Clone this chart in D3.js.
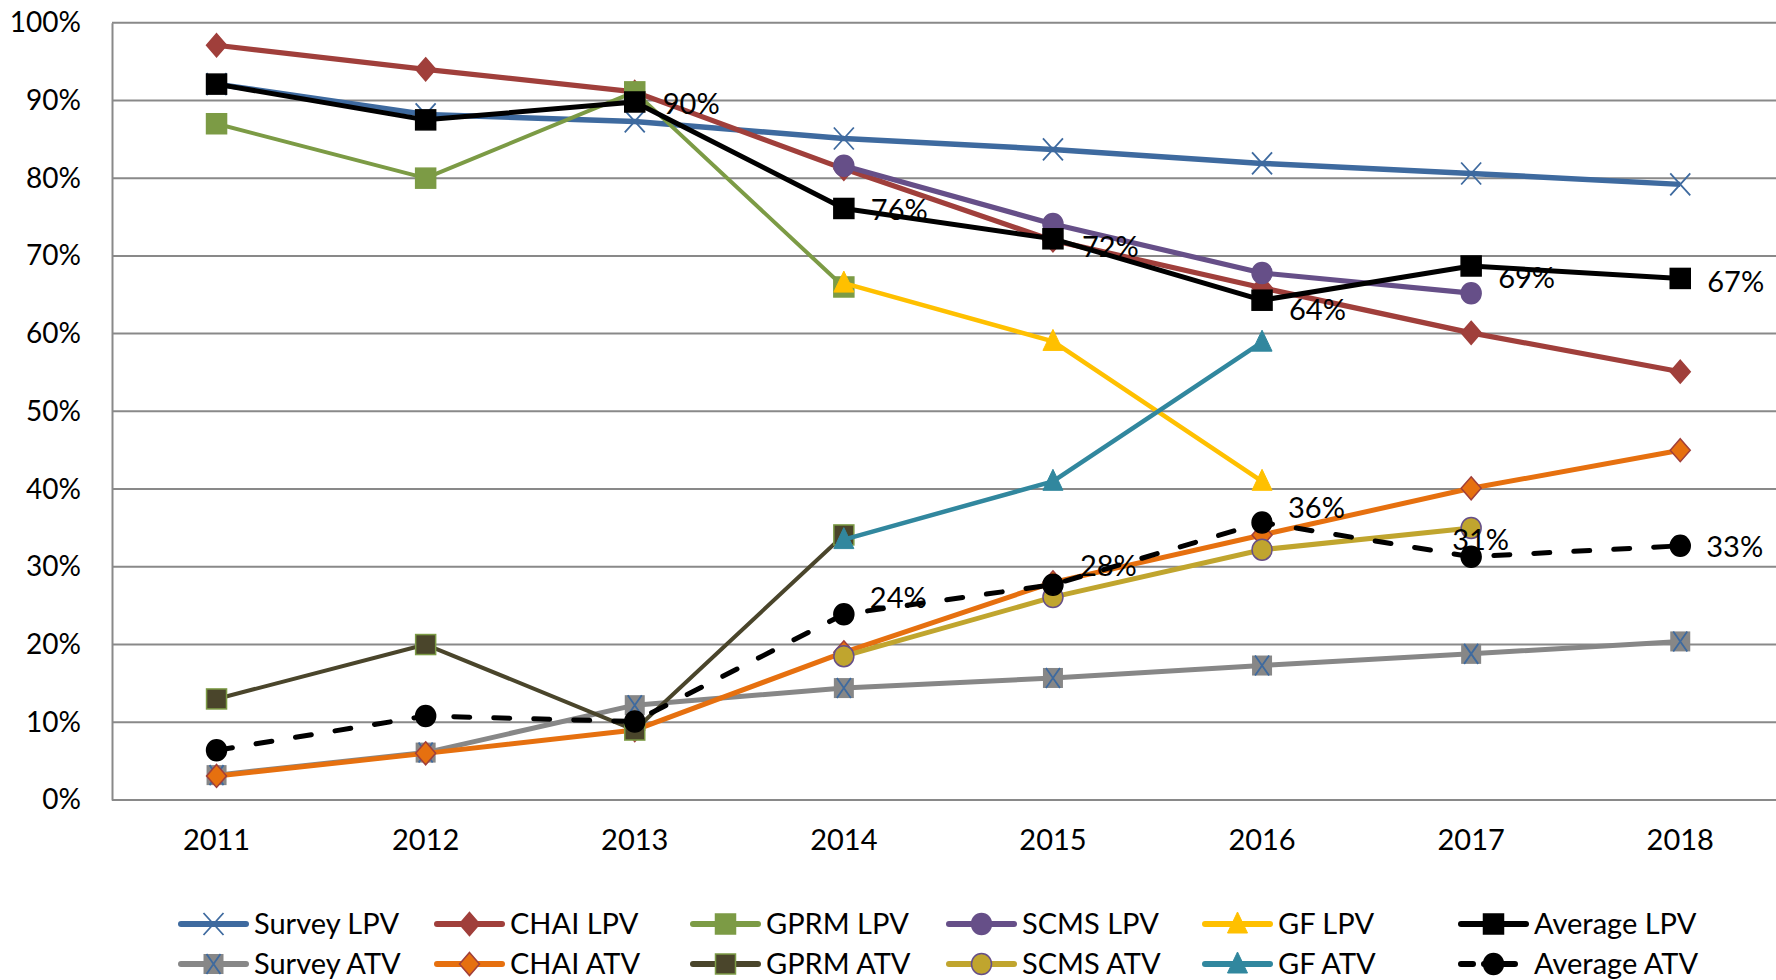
<!DOCTYPE html>
<html>
<head>
<meta charset="utf-8">
<script src="https://cdn.jsdelivr.net/npm/d3@7"></script>
<style>
  body { margin: 0; background: #fff; }
  svg text { font-family: Lato, "Liberation Sans", sans-serif; fill: #000; }
</style>
</head>
<body>
<svg id="chart" width="1776" height="980"></svg>
<script>
var years = ['2011', '2012', '2013', '2014', '2015', '2016', '2017', '2018'];
var yTicks = [0, 0.1, 0.2, 0.3, 0.4, 0.5, 0.6, 0.7, 0.8, 0.9, 1.0];

// null = no value that year
var surveyLpv = [0.921, 0.882, 0.873, 0.851, 0.837, 0.819, 0.806, 0.792];
var chaiLpv   = [0.971, 0.940, 0.911, 0.812, 0.720, 0.659, 0.601, 0.551];
var gprmLpv   = [0.870, 0.800, 0.911, 0.660, null, null, null, null];
var scmsLpv   = [null, null, null, 0.816, 0.741, 0.678, 0.652, null];
var gfLpv     = [null, null, null, 0.665, 0.590, 0.410, null, null];
var avgLpv    = [0.921, 0.875, 0.898, 0.761, 0.722, 0.643, 0.687, 0.671];

var surveyAtv = [0.032, 0.061, 0.122, 0.144, 0.157, 0.173, 0.188, 0.204];
var chaiAtv   = [0.031, 0.060, 0.090, 0.190, 0.280, 0.341, 0.401, 0.450];
var gprmAtv   = [0.130, 0.200, 0.090, 0.341, null, null, null, null];
var scmsAtv   = [null, null, null, 0.185, 0.261, 0.322, 0.350, null];
var gfAtv     = [null, null, null, 0.335, 0.410, 0.589, null, null];
var avgAtv    = [0.064, 0.108, 0.101, 0.239, 0.277, 0.357, 0.313, 0.327];

// which points of the average lines carry a data label
var avgLpvLabelled = [false, false, true, true, true, true, true, true];
var avgAtvLabelled = [false, false, false, true, true, true, true, true];
// label nudges (dx, dy) away from the point
var avgLpvNudge = [[0, 0], [0, 0], [28, 2], [27, 1], [29, 8], [27, 10], [27, 12], [27, 3]];
var avgAtvNudge = [[0, 0], [0, 0], [0, 0], [26, -16], [27, -19], [26, -15], [-19, -17], [26, 1]];

var series = [
    { name: 'Survey LPV', values: surveyLpv, color: '#3e6a9f', width: 5.5, marker: 'x', fill: 'none', edge: '#3e6a9f' },
    { name: 'CHAI LPV', values: chaiLpv, color: '#a03f3b', width: 5.2, marker: 'diamond', fill: '#a03f3b', edge: '#a03f3b' },
    { name: 'GPRM LPV', values: gprmLpv, color: '#7c9b45', width: 4, marker: 'square', fill: '#7c9b45', edge: '#7c9b45' },
    { name: 'SCMS LPV', values: scmsLpv, color: '#664f88', width: 5.2, marker: 'circle', fill: '#664f88', edge: '#664f88' },
    { name: 'GF LPV', values: gfLpv, color: '#ffc000', width: 4.5, marker: 'triangle', fill: '#ffc000', edge: '#ffc000' },
    { name: 'Average LPV', values: avgLpv, color: '#000000', width: 5, marker: 'square', fill: '#000', edge: '#000',
      labelled: avgLpvLabelled, nudge: avgLpvNudge },
    { name: 'Survey ATV', values: surveyAtv, color: '#878787', width: 5, marker: 'xsquare', fill: '#878787', edge: '#3e6a9f' },
    { name: 'CHAI ATV', values: chaiAtv, color: '#e6700f', width: 5, marker: 'diamond', fill: '#e6700f', edge: '#a03f3b' },
    { name: 'GPRM ATV', values: gprmAtv, color: '#4a452b', width: 4, marker: 'square', fill: '#4a452b', edge: '#7c9b45' },
    { name: 'SCMS ATV', values: scmsAtv, color: '#c0a52e', width: 5, marker: 'circle', fill: '#c0a52e', edge: '#664f88' },
    { name: 'GF ATV', values: gfAtv, color: '#31879e', width: 4.5, marker: 'triangle', fill: '#31879e', edge: '#31879e' },
    { name: 'Average ATV', values: avgAtv, color: '#000000', width: 5, marker: 'circle', fill: '#000', edge: '#000',
      dash: '16,24', labelled: avgAtvLabelled, nudge: avgAtvNudge }
];

var svg = d3.select('#chart');
var plotLeft = 112, plotTop = 22.7, plotBottom = 800, bandW = 209.1;

var x = d3.scaleBand()
    .domain(years)
    .range([plotLeft, plotLeft + bandW * years.length]);
var y = d3.scaleLinear().domain([0, 1]).range([plotBottom, plotTop]);
var pct = d3.format('.0%');

// gridlines
svg.append('g').selectAll('line')
    .data(yTicks)
    .enter().append('line')
    .attr('x1', plotLeft).attr('x2', 1776)
    .attr('y1', function (d) { return y(d); })
    .attr('y2', function (d) { return y(d); })
    .attr('stroke', '#898989')
    .attr('stroke-width', 2);

// y axis
var yAxis = svg.append('g')
    .attr('transform', 'translate(' + plotLeft + ',0)')
    .call(d3.axisLeft(y).tickValues(yTicks).tickFormat(pct).tickSize(0).tickPadding(31));
yAxis.select('.domain').attr('stroke', '#898989').attr('stroke-width', 2);
yAxis.selectAll('text').style('font-size', '28px');

// x axis
var xAxis = svg.append('g')
    .attr('transform', 'translate(0,' + plotBottom + ')')
    .call(d3.axisBottom(x).tickSize(0).tickPadding(29));
xAxis.select('.domain').remove();
xAxis.selectAll('text').style('font-size', '29px');

function cx(i) { return x(years[i]) + x.bandwidth() / 2; }

function drawMarker(g, kind, fill, edge) {
    if (kind === 'square') {
        g.append('rect').attr('x', -10).attr('y', -10).attr('width', 20).attr('height', 20)
            .attr('fill', fill).attr('stroke', edge).attr('stroke-width', 1.5);
    } else if (kind === 'diamond') {
        g.append('path').attr('d', 'M0,-11.5L10,0L0,11.5L-10,0Z')
            .attr('fill', fill).attr('stroke', edge).attr('stroke-width', 1.5);
    } else if (kind === 'circle') {
        g.append('ellipse').attr('rx', 10).attr('ry', 10.5)
            .attr('fill', fill).attr('stroke', edge).attr('stroke-width', 1.5);
    } else if (kind === 'triangle') {
        g.append('path').attr('d', 'M0,-12L10,9L-10,9Z')
            .attr('fill', fill).attr('stroke', edge).attr('stroke-width', 1);
    } else if (kind === 'x') {
        g.append('path').attr('d', 'M-10,-11L10,11M10,-11L-10,11')
            .attr('fill', 'none').attr('stroke', edge).attr('stroke-width', 1.8);
    } else if (kind === 'xsquare') {
        g.append('rect').attr('x', -10).attr('y', -10).attr('width', 20).attr('height', 20)
            .attr('fill', fill);
        g.append('path').attr('d', 'M-7,-10L7,10M7,-10L-7,10')
            .attr('fill', 'none').attr('stroke', edge).attr('stroke-width', 1.8);
    }
}

var line = d3.line()
    .defined(function (d) { return d != null; })
    .x(function (d, i) { return cx(i); })
    .y(function (d) { return y(d); });

series.forEach(function (s) {
    var g = svg.append('g').attr('class', 'series');
    g.append('path')
        .datum(s.values)
        .attr('d', line)
        .attr('fill', 'none')
        .attr('stroke', s.color)
        .attr('stroke-width', s.width)
        .attr('stroke-linejoin', 'round')
        .attr('stroke-linecap', s.dash ? 'round' : 'butt')
        .attr('stroke-dasharray', s.dash || null);

    s.values.forEach(function (v, i) {
        if (v == null) return;
        var m = g.append('g').attr('transform', 'translate(' + cx(i) + ',' + y(v) + ')');
        drawMarker(m, s.marker, s.fill, s.edge);
    });
});

// data labels on the two average lines
series.forEach(function (s) {
    if (!s.labelled) return;
    s.values.forEach(function (v, i) {
        if (!s.labelled[i]) return;
        svg.append('text')
            .attr('x', cx(i) + s.nudge[i][0])
            .attr('y', y(v) + s.nudge[i][1])
            .attr('dy', '0.35em')
            .style('font-size', '29px')
            .text(pct(v));
    });
});

// legend, two rows of six
var legendCol0 = 178, legendColW = 256, legendRows = [924, 964], sampleW = 71;
var legend = svg.append('g').attr('class', 'legend');
series.forEach(function (s, k) {
    var col = k % 6, row = Math.floor(k / 6);
    var lx = legendCol0 + col * legendColW, ly = legendRows[row];
    var item = legend.append('g').attr('transform', 'translate(' + lx + ',' + ly + ')');
    item.append('line')
        .attr('x1', 3).attr('x2', s.dash ? 57 : sampleW - 3)
        .attr('stroke', s.color)
        .attr('stroke-width', 6)
        .attr('stroke-linecap', 'round')
        .attr('stroke-dasharray', s.dash ? '12,11,40' : null);
    var m = item.append('g').attr('transform', 'translate(' + sampleW / 2 + ',0)');
    drawMarker(m, s.marker, s.fill, s.edge);
    item.append('text')
        .attr('x', sampleW + 5)
        .attr('dy', '0.35em')
        .style('font-size', '29px')
        .text(s.name);
});
</script>
</body>
</html>
